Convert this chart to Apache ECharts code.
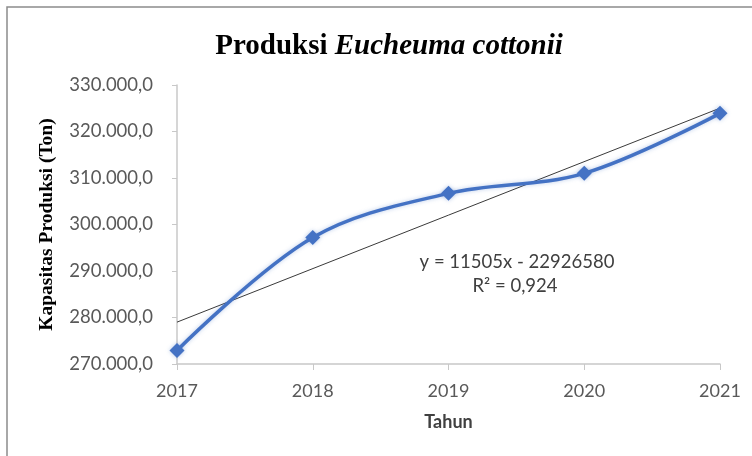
<!DOCTYPE html>
<html>
<head>
<meta charset="utf-8">
<script src="https://cdn.jsdelivr.net/npm/echarts@6/dist/echarts.min.js"></script>
<style>html,body{margin:0;padding:0;background:#fff}#c{width:752px;height:456px}</style>
</head>
<body>
<div id="c"></div>
<script>
const years = [2017, 2018, 2019, 2020, 2021];
const production = [272900, 297200, 306700, 311000, 323900];
const trendYears = [2017, 2021];
const trendValues = [279005, 325025];
const yTicks = [270000, 280000, 290000, 300000, 310000, 320000, 330000];
const titleMain = 'Produksi ';
const titleItalic = 'Eucheuma cottonii';
const equation = 'y = 11505x - 22926580';
const rSquared = 'R² = 0,924';

function fmt(v) {
  const s = Math.round(v).toString().replace(/\B(?=(\d{3})+(?!\d))/g, '.');
  return s + ',0';
}

const chart = echarts.init(document.getElementById('c'));
chart.setOption({
  animation: false,
  backgroundColor: '#ffffff',
  title: {
    text: '{a|' + titleMain + '}{b|' + titleItalic + '}',
    left: 384, top: 27, textAlign: 'center',
    textStyle: {
      rich: {
        a: { fontFamily: 'Liberation Serif', fontWeight: 'bold', fontSize: 29, color: '#000' },
        b: { fontFamily: 'Liberation Serif', fontWeight: 'bold', fontStyle: 'italic', fontSize: 29, color: '#000' }
      }
    }
  },
  grid: { left: 177, right: 32, top: 85, bottom: 92 },
  xAxis: {
    type: 'value', min: years[0], max: years[years.length - 1], interval: 1,
    name: 'Tahun', nameLocation: 'middle', nameGap: 49,
    nameTextStyle: { fontFamily: 'Lato', fontWeight: 'bold', fontSize: 18, color: '#404040' },
    axisLine: { lineStyle: { color: '#c8c8c8', width: 1.5 } },
    axisTick: { show: true, length: 6, lineStyle: { color: '#c8c8c8' } },
    axisLabel: { fontFamily: 'Lato', fontSize: 18, color: '#595959', margin: 18, formatter: v => String(v) },
    splitLine: { show: false }
  },
  yAxis: {
    type: 'value', min: yTicks[0], max: yTicks[yTicks.length - 1], interval: 10000,
    name: 'Kapasitas Produksi (Ton)', nameLocation: 'middle', nameGap: 120, nameRotate: 90,
    nameTextStyle: { fontFamily: 'Liberation Serif', fontWeight: 'bold', fontSize: 19.5, color: '#000' },
    axisLine: { show: true, lineStyle: { color: '#c8c8c8', width: 1.5 } },
    axisTick: { show: true, length: 5, lineStyle: { color: '#c8c8c8' } },
    axisLabel: { fontFamily: 'Lato', fontSize: 18.5, color: '#595959', margin: 24, formatter: fmt },
    splitLine: { show: false }
  },
  series: [
    {
      type: 'line',
      data: trendYears.map((y, i) => [y, trendValues[i]]),
      symbol: 'none',
      lineStyle: { color: '#3a3a3a', width: 1 },
      z: 2
    },
    {
      type: 'line',
      data: years.map((y, i) => [y, production[i]]),
      smooth: 0.35,
      symbol: 'diamond', symbolSize: 15,
      itemStyle: { color: '#4472C4', shadowColor: 'rgba(68,114,196,0.4)', shadowBlur: 4 },
      lineStyle: { color: '#4472C4', width: 3.5, shadowColor: 'rgba(68,114,196,0.35)', shadowBlur: 4 },
      z: 3
    }
  ],
  graphic: [
    { type: 'rect', shape: { x: 7, y: 7, width: 760, height: 460 }, style: { fill: 'none', stroke: '#8c8c8c', lineWidth: 1.5 }, silent: true },
    { type: 'text', style: { x: 517, y: 262, text: equation, textAlign: 'center', textVerticalAlign: 'middle', fontFamily: 'Lato', fontSize: 18.5, fill: '#404040' } },
    { type: 'text', style: { x: 515, y: 286, text: rSquared, textAlign: 'center', textVerticalAlign: 'middle', fontFamily: 'Lato', fontSize: 18.5, fill: '#404040' } }
  ]
});
</script>
</body>
</html>
